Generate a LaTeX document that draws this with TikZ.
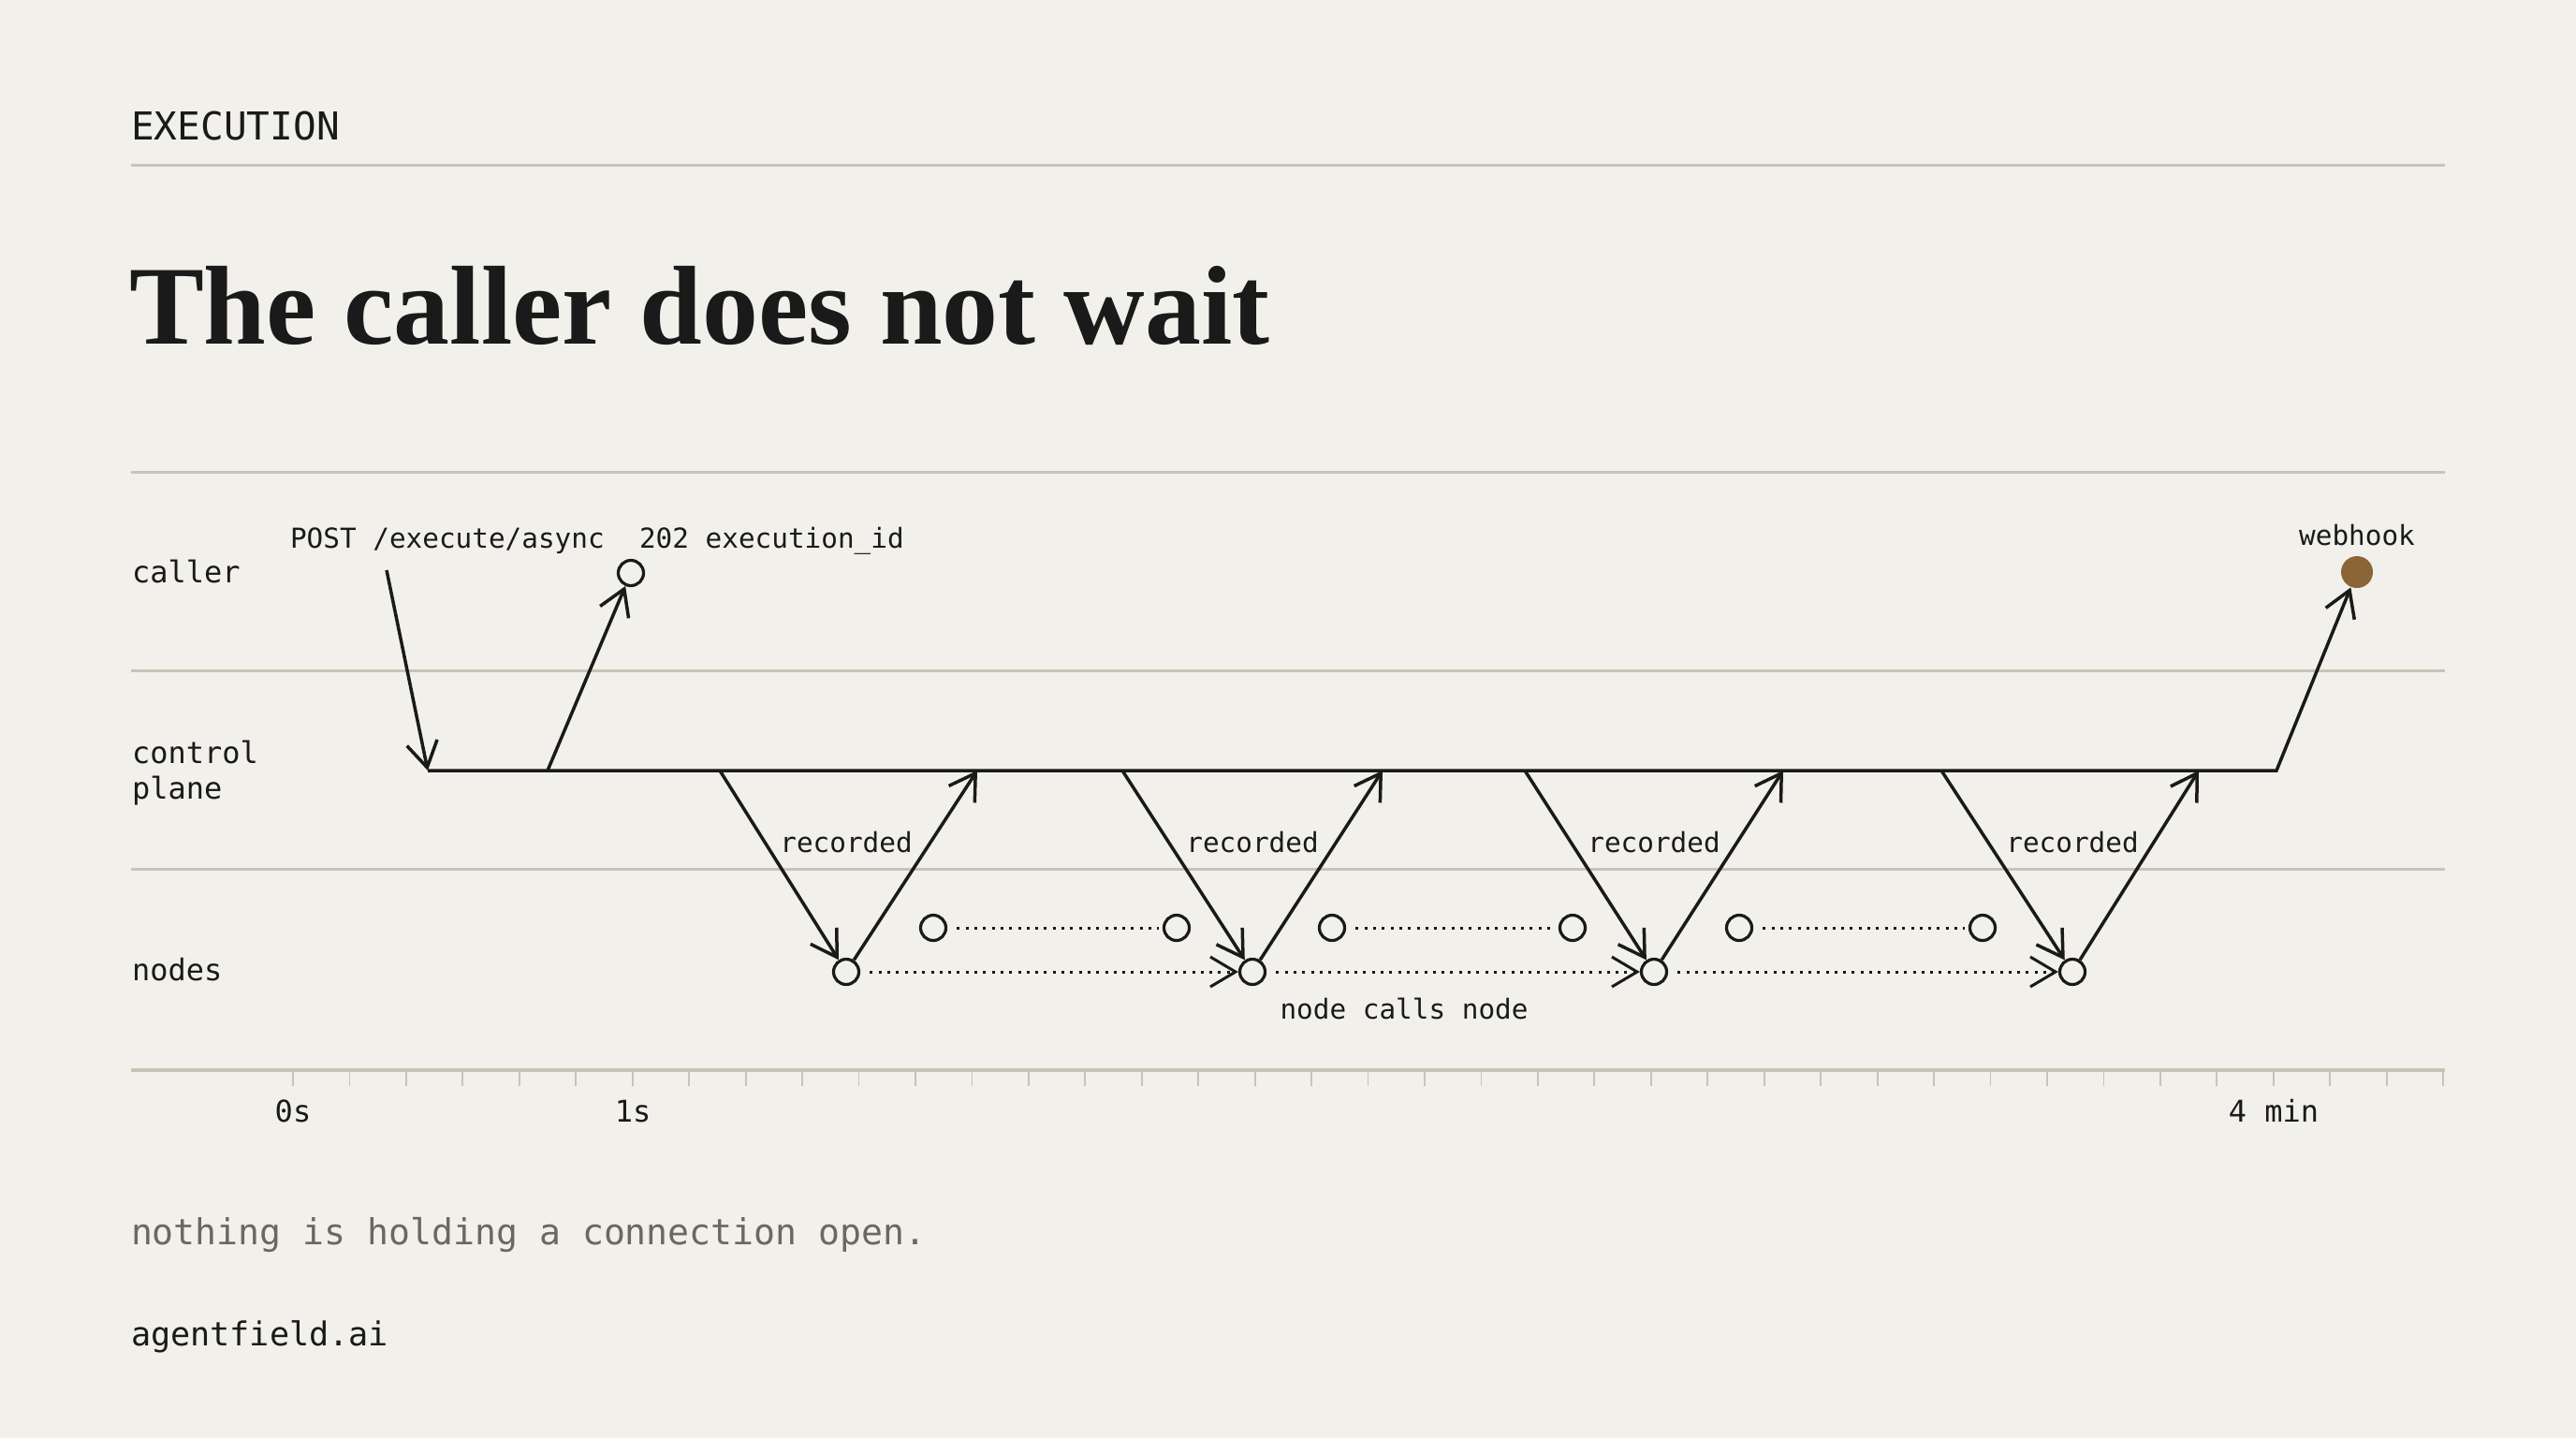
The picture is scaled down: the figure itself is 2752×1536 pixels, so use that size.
\documentclass[tikz,border=0pt]{standalone}
\usepackage{fontspec}
\setmainfont{Liberation Serif}
\newfontfamily\plexmono{DejaVu Sans Mono}
\usetikzlibrary{arrows.meta}
\definecolor{bgc}{HTML}{F2F0EB}
\definecolor{rulec}{HTML}{C8C3B6}
\definecolor{ink}{HTML}{1A1A1A}
\definecolor{graytext}{HTML}{6B6863}
\definecolor{brownc}{HTML}{8B6535}
\begin{document}
\begin{tikzpicture}[x=0.1mm,y=-0.1mm,
  lab/.style={inner sep=0pt, outer sep=0pt, anchor=base west, text=ink},
  labc/.style={inner sep=0pt, outer sep=0pt, anchor=base, text=ink},
  fhead/.style={font=\plexmono\fontsize{11.7pt}{14pt}\selectfont},
  flane/.style={font=\plexmono\fontsize{9.1pt}{11pt}\selectfont},
  fsmall/.style={font=\plexmono\fontsize{8.35pt}{10pt}\selectfont},
  rulel/.style={draw=rulec, line width=0.3mm},
  tickl/.style={draw=rulec, line width=0.18mm},
  ring/.style={circle, draw=ink, line width=0.32mm, minimum size=2.7mm, inner sep=0pt, fill=bgc},
  flow/.style={draw=ink, line width=0.35mm},
  arr/.style={flow, -{Straight Barb[length=2.7mm,width=3.3mm]}},
  dots/.style={draw=ink, line width=0.3mm, dash pattern=on 0.3mm off 0.63mm, dash phase=0.3mm},
  dotarr/.style={dots, -{Straight Barb[length=2.7mm,width=3.2mm]}}
]
\fill[bgc] (0,0) rectangle (2752,1536);
\useasboundingbox (0,0) rectangle (2752,1536);

% header
\node[lab, fhead] (hdr) at (140,149) {EXECUTION};
\draw[rulel] (140,176) -- (2612,176);
\node[lab, font=\bfseries\fontsize{34.1pt}{40pt}\selectfont] (title) at (138,367) {The caller does not wait};

% lanes
\draw[rulel] (140,504) -- (2612,504);
\draw[rulel] (140,716) -- (2612,716);
\draw[rulel] (140,928) -- (2612,928);
\draw[draw=rulec, line width=0.35mm] (140,1143) -- (2612,1143);
\foreach \i in {0,...,38} {\draw[tickl] ({313+60.45*\i},1143) -- ++(0,17);}

\node[lab, flane] (lcaller) at (141,622) {caller};
\node[lab, flane] (lcontrol) at (141,815) {control};
\node[lab, flane] (lplane) at (141,853) {plane};
\node[lab, flane] (lnodes) at (141,1047) {nodes};

% axis labels
\node[labc, flane] (t0) at (313,1198) {0s};
\node[labc, flane] (t1) at (676,1198) {1s};
\node[labc, flane] (t4) at (2429,1198) {4 min};

% caller labels
\node[lab, fsmall] (lpost) at (310,585) {POST /execute/async};
\node[lab, fsmall] (lresp) at (683,585) {202 execution\_id};
\node[labc, fsmall] (lweb) at (2518,582) {webhook};

% points
\coordinate (ps) at (413,609);
\coordinate (cp0) at (457,823);
\coordinate (r0) at (585,823);
\coordinate (cpend) at (2432,823);
\coordinate (d1) at (769,823);  \coordinate (u1) at (1044,823);
\coordinate (d2) at (1199,823); \coordinate (u2) at (1477,823);
\coordinate (d3) at (1629,823); \coordinate (u3) at (1905,823);
\coordinate (d4) at (2074,823); \coordinate (u4) at (2349,823);

\node[ring] (resp) at (674,612) {};
\node[circle, fill=brownc, minimum size=3.4mm, inner sep=0pt] (wh) at (2518,611) {};

\node[ring] (n1) at (904,1038) {};
\node[ring] (n2) at (1338,1038) {};
\node[ring] (n3) at (1767,1038) {};
\node[ring] (n4) at (2214,1038) {};

\node[ring] (s1a) at (997,991) {};
\node[ring] (s1b) at (1257,991) {};
\node[ring] (s2a) at (1423,991) {};
\node[ring] (s2b) at (1680,991) {};
\node[ring] (s3a) at (1858,991) {};
\node[ring] (s3b) at (2118,991) {};

% recorded labels
\node[labc, fsmall] (rec1) at (904,910) {recorded};
\node[labc, fsmall] (rec2) at (1338,910) {recorded};
\node[labc, fsmall] (rec3) at (1767,910) {recorded};
\node[labc, fsmall] (rec4) at (2214,910) {recorded};
\node[labc, fsmall] (ncn) at (1500,1088) {node calls node};

% control plane line and webhook
\draw[arr] (cp0) -- (cpend) -- (wh);
\draw[arr] (ps) -- (cp0);
\draw[arr] (r0) -- (resp);

% dives
\draw[arr] (d1) -- (n1); \draw[arr] (n1) -- (u1);
\draw[arr] (d2) -- (n2); \draw[arr] (n2) -- (u2);
\draw[arr] (d3) -- (n3); \draw[arr] (n3) -- (u3);
\draw[arr] (d4) -- (n4); \draw[arr] (n4) -- (u4);

% dotted
\draw[dots, shorten <=0.4mm, shorten >=0.4mm] (s1a) -- (s1b);
\draw[dots, shorten <=0.4mm, shorten >=0.4mm] (s2a) -- (s2b);
\draw[dots, shorten <=0.4mm, shorten >=0.4mm] (s3a) -- (s3b);
\draw[dotarr, shorten <=0.4mm] (n1) -- (n2);
\draw[dotarr, shorten <=0.4mm] (n2) -- (n3);
\draw[dotarr, shorten <=0.4mm] (n3) -- (n4);

% footer
\node[lab, font=\plexmono\fontsize{10.85pt}{13pt}\selectfont, text=graytext] (note) at (140,1329) {nothing is holding a connection open.};
\node[lab, font=\plexmono\fontsize{10pt}{12pt}\selectfont] (brand) at (140,1437) {agentfield.ai};
\end{tikzpicture}
\end{document}
